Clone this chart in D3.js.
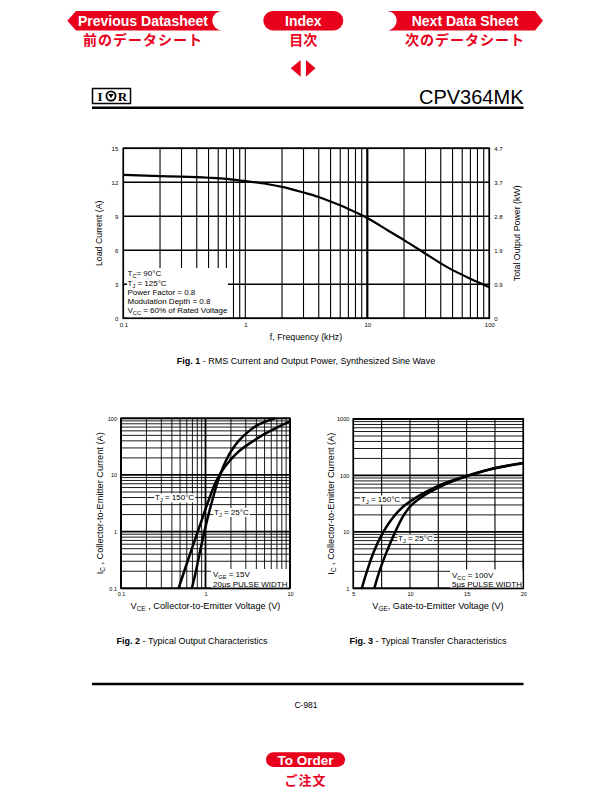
<!DOCTYPE html>
<html><head><meta charset="utf-8">
<script src="https://cdn.jsdelivr.net/npm/d3@7"></script>
<style>body{margin:0;background:#fff} svg{display:block}</style>
</head><body><svg id="c" width="612" height="792"></svg>
<script>
// ---------------- DATA ----------------
const navLabels = ["Previous Datasheet", "Index", "Next Data Sheet"];
const navLabelsJP = ["前のデータシート", "目次", "次のデータシート"];
const orderLabel = "To Order";
const orderLabelJP = "ご注文";
const partNumber = "CPV364MK";
const pageNumber = "C-981";

// Fig 1
const fig1Freq    = [0.1, 0.2, 0.3, 0.5, 0.7, 1, 1.5, 2, 3, 4, 5, 7, 10, 15, 20, 30, 40, 50, 70, 100];
const fig1Current = [12.65, 12.55, 12.5, 12.4, 12.3, 12.1, 11.85, 11.6, 11.1, 10.7, 10.3, 9.65, 8.85, 7.7, 6.9, 5.7, 4.85, 4.25, 3.5, 2.75];
const fig1YTicks = [0, 3, 6, 9, 12, 15];
const fig1PowerTicks = ["0", "0.9", "1.9", "2.8", "3.7", "4.7"];
const fig1XTicks = [0.1, 1, 10, 100];
const fig1XTickLabels = ["0.1", "1", "10", "100"];
const fig1Legend = [
  [["T"], ["C", "sub"], ["= 90°C"]],
  [["T"], ["J", "sub"], [" = 125°C"]],
  [["Power Factor = 0.8"]],
  [["Modulation Depth = 0.8"]],
  [["V"], ["CC", "sub"], [" = 60% of Rated Voltage"]]
];

// Fig 2 (Ic in A vs Vce in V)
const fig2I150 = [0.1, 0.2, 0.5, 1, 2, 4, 8, 12, 18, 27, 38, 52, 68, 88];
const fig2V150 = [0.48, 0.56, 0.69, 0.81, 0.95, 1.12, 1.35, 1.58, 1.95, 2.55, 3.5, 4.9, 6.9, 10];
const fig2I25  = [0.1, 0.2, 0.5, 1, 2, 4, 8, 18, 27, 40, 60, 80, 100];
const fig2V25  = [0.69, 0.77, 0.875, 0.97, 1.085, 1.23, 1.41, 1.75, 2.03, 2.47, 3.3, 4.4, 6.6];
const fig2XTicks = [0.1, 1, 10];
const fig2XTickLabels = ["0.1", "1", "10"];
const fig2YTicks = [0.1, 1, 10, 100];
const fig2YTickLabels = ["0.1", "1", "10", "100"];

// Fig 3 (Ic in A vs Vge in V)
const fig3V150 = [5.75, 6.2, 6.8, 7.65, 8.5, 9.4, 10.5, 11.5, 13, 15, 17.5, 20];
const fig3I150 = [1, 2.0, 4.4, 10, 18, 28, 40, 52, 72, 98, 135, 166];
const fig3V25  = [6.85, 7.3, 7.9, 8.7, 9.4, 10.15, 11, 12, 13, 15, 17.5, 20];
const fig3I25  = [1, 2.0, 4.2, 10, 19, 30, 41, 54, 68, 96, 134, 164];
const fig3XTicks = [5, 10, 15, 20];
const fig3XGrid = [5, 7.5, 10, 12.5, 15, 17.5, 20];
const fig3YTicks = [1, 10, 100, 1000];
const fig3YTickLabels = ["1", "10", "100", "1000"];

// ---------------- DRAWING ----------------
const svg = d3.select("#c");
const RED = "#e8001c";
const FONT = "'Liberation Sans', Arial, Helvetica, sans-serif";
const JFONT = "'Noto Sans CJK JP', 'Noto Sans CJK SC', sans-serif";

function rich(sel, parts, size) {
  let shifted = false;
  parts.forEach(p => {
    const t = sel.append("tspan").text(p[0]);
    if (p[1] === "sub") { t.attr("font-size", size * 0.7).attr("dy", size * 0.25); shifted = true; }
    else if (shifted) { t.attr("dy", -size * 0.25); shifted = false; }
  });
  return sel;
}

function labelBox(g, x, y, parts, size, pad) {
  const bg = g.append("rect").attr("fill", "#fff");
  const t = g.append("text").attr("x", x).attr("y", y).attr("font-family", FONT)
    .attr("font-size", size).attr("fill", "#000");
  rich(t, parts, size);
  const b = t.node().getBBox();
  bg.attr("x", b.x - pad).attr("y", b.y + 0.5).attr("width", b.width + 2 * pad).attr("height", b.height - 1);
  return t;
}

// --- header nav ---
const nav = svg.append("g");
nav.append("path").attr("fill", RED)
  .attr("d", "M67.3,20.7 L76,11 L222,11 A9.7,9.7 0 0 0 222,30.4 L76,30.4 Z");
nav.append("rect").attr("fill", RED).attr("x", 263.3).attr("y", 11).attr("width", 80).attr("height", 19.4).attr("rx", 9.7);
nav.append("path").attr("fill", RED)
  .attr("d", "M543,20.7 L535,11 L387,11 A9.7,9.7 0 0 1 387,30.4 L535,30.4 Z");
const navX = [143, 303.3, 465];
navLabels.forEach((s, i) => {
  nav.append("text").attr("x", navX[i]).attr("y", 26).attr("text-anchor", "middle")
    .attr("font-family", FONT).attr("font-weight", "bold").attr("font-size", 14).attr("fill", "#fff").text(s);
});
navLabelsJP.forEach((s, i) => {
  nav.append("text").attr("x", navX[i]).attr("y", 44.5).attr("text-anchor", "middle")
    .attr("font-family", JFONT).attr("font-weight", "bold").attr("font-size", 14)
    .attr("letter-spacing", i === 1 ? 0 : 1).attr("fill", RED).text(s);
});
nav.append("path").attr("fill", RED).attr("d", "M290.7,68.3 L300.7,60 L300.7,76.7 Z");
nav.append("path").attr("fill", RED).attr("d", "M306,60 L306,76.7 L315.5,68.3 Z");

// --- logo & title ---
const logo = svg.append("g");
logo.append("rect").attr("x", 92.5).attr("y", 88.5).attr("width", 38).attr("height", 15)
  .attr("fill", "none").attr("stroke", "#000").attr("stroke-width", 1.5);
logo.append("text").attr("x", 100).attr("y", 101).attr("text-anchor", "middle")
  .attr("font-family", "'Liberation Serif', serif").attr("font-weight", "bold").attr("font-size", 13).text("I");
logo.append("circle").attr("cx", 111).attr("cy", 96).attr("r", 4.6).attr("fill", "none").attr("stroke", "#000").attr("stroke-width", 1.8);
logo.append("path").attr("d", "M108.4,94 L113.6,94 L111,98.2 Z").attr("fill", "#000");
logo.append("text").attr("x", 122.5).attr("y", 101).attr("text-anchor", "middle")
  .attr("font-family", "'Liberation Serif', serif").attr("font-weight", "bold").attr("font-size", 13).text("R");

svg.append("text").attr("x", 523.5).attr("y", 104).attr("text-anchor", "end")
  .attr("font-family", FONT).attr("font-size", 20).attr("fill", "#000").text(partNumber);
svg.append("line").attr("x1", 92).attr("x2", 523.5).attr("y1", 107.8).attr("y2", 107.8)
  .attr("stroke", "#000").attr("stroke-width", 2.4);

function logGrid(lo, hi) {
  const v = [];
  for (let d = lo; d < hi * 0.999; d *= 10)
    for (let k = 1; k < 10; k++) v.push(+(k * d).toPrecision(4));
  v.push(hi);
  return v;
}
function isDecade(v) { const l = Math.log10(v); return Math.abs(l - Math.round(l)) < 1e-6; }
function styleAxis(s, size) {
  s.select(".domain").remove();
  s.selectAll("text").attr("font-family", FONT).attr("font-size", size).attr("fill", "#000");
}

// ---------------- FIG 1 ----------------
{
  const g = svg.append("g");
  const x = d3.scaleLog().domain([0.1, 100]).range([123.3, 489.3]);
  const y = d3.scaleLinear().domain([0, 15]).range([318.3, 148.3]);
  logGrid(0.1, 100).forEach(v => {
    g.append("line").attr("x1", x(v)).attr("x2", x(v)).attr("y1", y(0)).attr("y2", y(15))
      .attr("stroke", "#000").attr("stroke-width", Math.abs(v - 10) < 1e-6 ? 2.2 : 1.1);
  });
  fig1YTicks.forEach(v => {
    g.append("line").attr("x1", x(0.1)).attr("x2", x(100)).attr("y1", y(v)).attr("y2", y(v))
      .attr("stroke", "#000").attr("stroke-width", 1.4);
  });
  g.append("rect").attr("x", 127).attr("y", 268).attr("width", 101).attr("height", 49.5).attr("fill", "#fff");
  const lb = [276.2, 285.5, 294.5, 303.5, 312.8];
  fig1Legend.forEach((parts, i) => {
    const t = g.append("text").attr("x", 127.5).attr("y", lb[i]).attr("font-family", FONT)
      .attr("font-size", 8).attr("fill", "#000");
    rich(t, parts, 8);
  });
  g.append("rect").attr("x", x(0.1)).attr("y", y(15)).attr("width", x(100) - x(0.1)).attr("height", y(0) - y(15))
    .attr("fill", "none").attr("stroke", "#000").attr("stroke-width", 1.6);
  const pts = fig1Freq.map((f, i) => [x(f), y(fig1Current[i])]);
  g.append("path").attr("d", d3.line().curve(d3.curveMonotoneX)(pts)).attr("fill", "none")
    .attr("stroke", "#000").attr("stroke-width", 2.2);
  g.append("g").attr("transform", `translate(0,${y(0)})`)
    .call(d3.axisBottom(x).tickValues(fig1XTicks).tickFormat((d, i) => fig1XTickLabels[i]).tickSize(0).tickPadding(4))
    .call(s => styleAxis(s, 6));
  g.append("g").attr("transform", `translate(${x(0.1)},0)`)
    .call(d3.axisLeft(y).tickValues(fig1YTicks).tickSize(0).tickPadding(5))
    .call(s => styleAxis(s, 6));
  g.append("g").attr("transform", `translate(${x(100)},0)`)
    .call(d3.axisRight(y).tickValues(fig1YTicks).tickFormat((d, i) => fig1PowerTicks[i]).tickSize(0).tickPadding(5))
    .call(s => styleAxis(s, 6));
  g.append("text").attr("transform", `translate(102,${(y(0) + y(15)) / 2}) rotate(-90)`).attr("text-anchor", "middle")
    .attr("font-family", FONT).attr("font-size", 8.8).text("Load Current (A)");
  g.append("text").attr("transform", `translate(520,${(y(0) + y(15)) / 2}) rotate(-90)`).attr("text-anchor", "middle")
    .attr("font-family", FONT).attr("font-size", 8.8).text("Total Output Power (kW)");
  g.append("text").attr("x", 306).attr("y", 340).attr("text-anchor", "middle")
    .attr("font-family", FONT).attr("font-size", 8.8).text("f, Frequency (kHz)");
  const cap = g.append("text").attr("x", 306).attr("y", 364).attr("text-anchor", "middle")
    .attr("font-family", FONT).attr("font-size", 9);
  cap.append("tspan").attr("font-weight", "bold").text("Fig. 1");
  cap.append("tspan").text(" - RMS Current and Output Power, Synthesized Sine Wave");
}

// ---------------- FIG 2 ----------------
{
  const g = svg.append("g");
  const x = d3.scaleLog().domain([0.1, 10]).range([121, 290]);
  const y = d3.scaleLog().domain([0.1, 100]).range([588.3, 418.3]);
  logGrid(0.1, 10).forEach(v => {
    g.append("line").attr("x1", x(v)).attr("x2", x(v)).attr("y1", y(0.1)).attr("y2", y(100))
      .attr("stroke", "#000").attr("stroke-width", isDecade(v) ? 1.8 : 0.9);
  });
  logGrid(0.1, 100).forEach(v => {
    g.append("line").attr("x1", x(0.1)).attr("x2", x(10)).attr("y1", y(v)).attr("y2", y(v))
      .attr("stroke", "#000").attr("stroke-width", isDecade(v) ? 1.8 : 0.9);
  });
  g.append("rect").attr("x", x(0.1)).attr("y", y(100)).attr("width", x(10) - x(0.1)).attr("height", y(0.1) - y(100))
    .attr("fill", "none").attr("stroke", "#000").attr("stroke-width", 1.6);
  const line = d3.line().curve(d3.curveMonotoneY);
  g.append("path").attr("d", line(fig2V150.map((v, i) => [x(v), y(fig2I150[i])]))).attr("fill", "none").attr("stroke", "#000").attr("stroke-width", 2.5);
  g.append("path").attr("d", line(fig2V25.map((v, i) => [x(v), y(fig2I25[i])]))).attr("fill", "none").attr("stroke", "#000").attr("stroke-width", 2.5);
  labelBox(g, 155, 500, [["T"], ["J", "sub"], [" = 150°C"]], 8, 0.8);
  labelBox(g, 214, 514.5, [["T"], ["J", "sub"], [" = 25°C"]], 8, 0.8);
  g.append("rect").attr("fill", "#fff").attr("x", 211).attr("y", 569).attr("width", 78).attr("height", 18.5);
  const t1 = g.append("text").attr("x", 213).attr("y", 577).attr("font-family", FONT).attr("font-size", 8);
  rich(t1, [["V"], ["GE", "sub"], [" = 15V"]], 8);
  g.append("text").attr("x", 213).attr("y", 586.5).attr("font-family", FONT).attr("font-size", 8).text("20µs PULSE WIDTH");
  g.append("g").attr("transform", `translate(0,${y(0.1)})`)
    .call(d3.axisBottom(x).tickValues(fig2XTicks).tickFormat((d, i) => fig2XTickLabels[i]).tickSize(0).tickPadding(4))
    .call(s => styleAxis(s, 5.5));
  g.append("g").attr("transform", `translate(${x(0.1)},0)`)
    .call(d3.axisLeft(y).tickValues(fig2YTicks).tickFormat((d, i) => fig2YTickLabels[i]).tickSize(0).tickPadding(4))
    .call(s => styleAxis(s, 5.5));
  const yl = g.append("text").attr("transform", `translate(103,${(y(0.1) + y(100)) / 2}) rotate(-90)`).attr("text-anchor", "middle")
    .attr("font-family", FONT).attr("font-size", 9.2);
  rich(yl, [["I"], ["C", "sub"], [" , Collector-to-Emitter Current (A)"]], 9.2);
  const xl = g.append("text").attr("x", 205.5).attr("y", 609).attr("text-anchor", "middle")
    .attr("font-family", FONT).attr("font-size", 9.2);
  rich(xl, [["V"], ["CE", "sub"], [" , Collector-to-Emitter Voltage (V)"]], 9.2);
  const cap = g.append("text").attr("x", 192).attr("y", 644).attr("text-anchor", "middle")
    .attr("font-family", FONT).attr("font-size", 9);
  cap.append("tspan").attr("font-weight", "bold").text("Fig. 2");
  cap.append("tspan").text(" - Typical Output Characteristics");
}

// ---------------- FIG 3 ----------------
{
  const g = svg.append("g");
  const x = d3.scaleLinear().domain([5, 20]).range([353.3, 523.3]);
  const y = d3.scaleLog().domain([1, 1000]).range([588.3, 419]);
  fig3XGrid.forEach(v => {
    g.append("line").attr("x1", x(v)).attr("x2", x(v)).attr("y1", y(1)).attr("y2", y(1000))
      .attr("stroke", "#000").attr("stroke-width", 1.1);
  });
  logGrid(1, 1000).forEach(v => {
    g.append("line").attr("x1", x(5)).attr("x2", x(20)).attr("y1", y(v)).attr("y2", y(v))
      .attr("stroke", "#000").attr("stroke-width", isDecade(v) ? 1.8 : 0.9);
  });
  g.append("rect").attr("x", x(5)).attr("y", y(1000)).attr("width", x(20) - x(5)).attr("height", y(1) - y(1000))
    .attr("fill", "none").attr("stroke", "#000").attr("stroke-width", 1.6);
  const line = d3.line().curve(d3.curveMonotoneX);
  g.append("path").attr("d", line(fig3V150.map((v, i) => [x(v), y(fig3I150[i])]))).attr("fill", "none").attr("stroke", "#000").attr("stroke-width", 2.5);
  g.append("path").attr("d", line(fig3V25.map((v, i) => [x(v), y(fig3I25[i])]))).attr("fill", "none").attr("stroke", "#000").attr("stroke-width", 2.5);
  labelBox(g, 361, 502, [["T"], ["J", "sub"], [" = 150°C"]], 8, 0.8);
  labelBox(g, 398, 541, [["T"], ["J", "sub"], [" = 25°C"]], 8, 0.8);
  g.append("rect").attr("fill", "#fff").attr("x", 450).attr("y", 569.5).attr("width", 72.5).attr("height", 18);
  const t1 = g.append("text").attr("x", 452).attr("y", 578).attr("font-family", FONT).attr("font-size", 8);
  rich(t1, [["V"], ["CC", "sub"], [" = 100V"]], 8);
  g.append("text").attr("x", 452).attr("y", 587).attr("font-family", FONT).attr("font-size", 8).text("5µs PULSE WIDTH");
  g.append("g").attr("transform", `translate(0,${y(1)})`)
    .call(d3.axisBottom(x).tickValues(fig3XTicks).tickSize(0).tickPadding(4))
    .call(s => styleAxis(s, 5.5));
  g.append("g").attr("transform", `translate(${x(5)},0)`)
    .call(d3.axisLeft(y).tickValues(fig3YTicks).tickFormat((d, i) => fig3YTickLabels[i]).tickSize(0).tickPadding(4))
    .call(s => styleAxis(s, 5.5));
  const yl = g.append("text").attr("transform", `translate(334,${(y(1) + y(1000)) / 2}) rotate(-90)`).attr("text-anchor", "middle")
    .attr("font-family", FONT).attr("font-size", 9.2);
  rich(yl, [["I"], ["C", "sub"], [" , Collector-to-Emitter Current (A)"]], 9.2);
  const xl = g.append("text").attr("x", 438).attr("y", 609).attr("text-anchor", "middle")
    .attr("font-family", FONT).attr("font-size", 9.2);
  rich(xl, [["V"], ["GE", "sub"], [", Gate-to-Emitter Voltage (V)"]], 9.2);
  const cap = g.append("text").attr("x", 428).attr("y", 644).attr("text-anchor", "middle")
    .attr("font-family", FONT).attr("font-size", 9);
  cap.append("tspan").attr("font-weight", "bold").text("Fig. 3");
  cap.append("tspan").text(" - Typical Transfer Characteristics");
}

// --- footer ---
svg.append("line").attr("x1", 92).attr("x2", 523.5).attr("y1", 684).attr("y2", 684)
  .attr("stroke", "#000").attr("stroke-width", 2.4);
svg.append("text").attr("x", 306).attr("y", 708).attr("text-anchor", "middle")
  .attr("font-family", FONT).attr("font-size", 8.5).text(pageNumber);
svg.append("rect").attr("x", 266).attr("y", 752.3).attr("width", 79).attr("height", 14.6).attr("rx", 7.3).attr("fill", RED);
svg.append("text").attr("x", 305.5).attr("y", 764.6).attr("text-anchor", "middle")
  .attr("font-family", FONT).attr("font-weight", "bold").attr("font-size", 13.5).attr("fill", "#fff").text(orderLabel);
svg.append("text").attr("x", 305.5).attr("y", 784.5).attr("text-anchor", "middle")
  .attr("font-family", JFONT).attr("font-weight", "bold").attr("font-size", 13).attr("letter-spacing", 1).attr("fill", RED).text(orderLabelJP);
</script></body></html>
